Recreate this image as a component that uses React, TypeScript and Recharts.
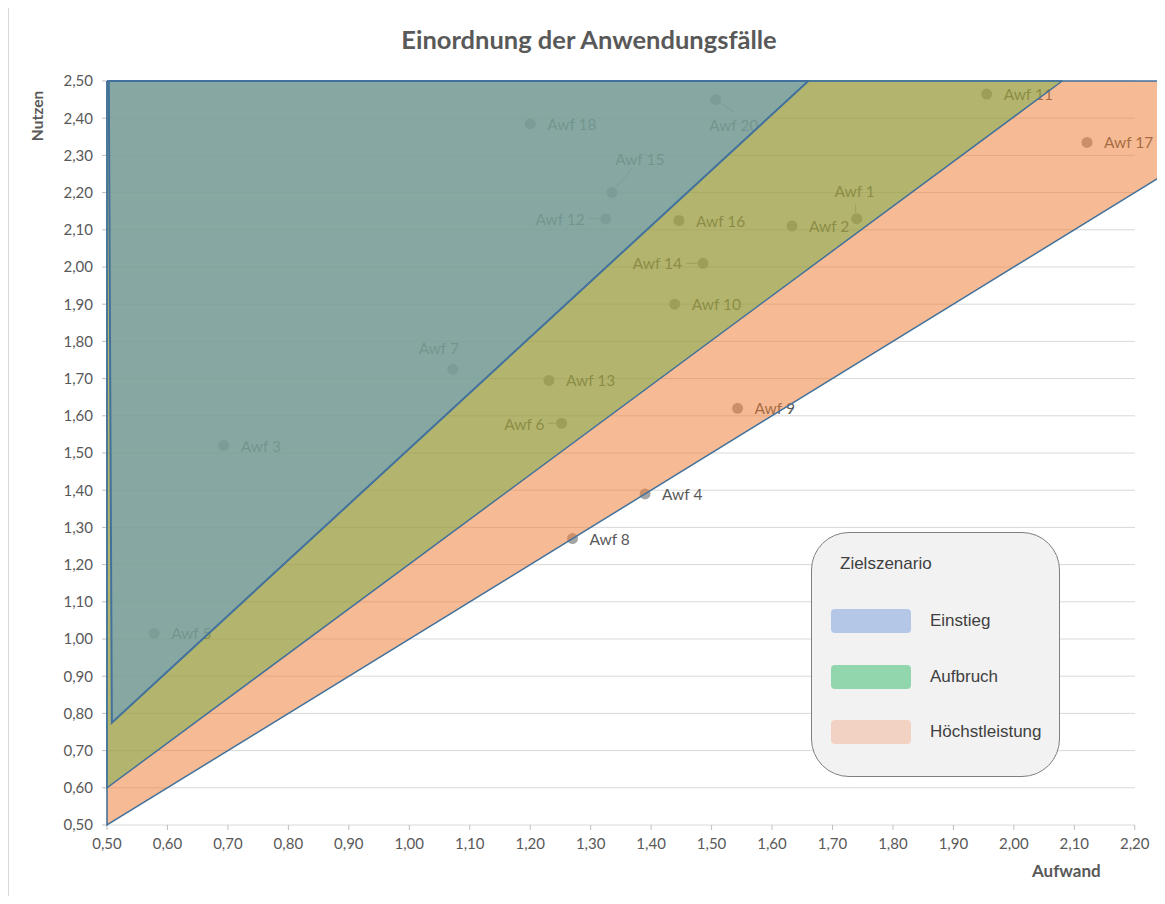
import { Area, CartesianGrid, ComposedChart, Scatter, XAxis, YAxis } from 'recharts'

// Anwendungsfälle (Aufwand / Nutzen)
const names = ['Awf 1', 'Awf 2', 'Awf 3', 'Awf 4', 'Awf 5', 'Awf 6', 'Awf 7', 'Awf 8', 'Awf 9', 'Awf 10', 'Awf 11', 'Awf 12', 'Awf 13', 'Awf 14', 'Awf 15', 'Awf 16', 'Awf 17', 'Awf 18', 'Awf 20']
const aufwand = [1.74, 1.633, 0.693, 1.39, 0.578, 1.252, 1.072, 1.27, 1.543, 1.439, 1.955, 1.325, 1.231, 1.486, 1.335, 1.446, 2.121, 1.2, 1.507]
const nutzen = [2.13, 2.11, 1.52, 1.39, 1.015, 1.58, 1.725, 1.27, 1.62, 1.9, 2.465, 2.13, 1.695, 2.01, 2.2, 2.125, 2.335, 2.385, 2.45]

// Zielszenario-Flächen: x, Untergrenze (Obergrenze = ceiling)
const hoechstX = [0.5, 0.5, 2.25]
const hoechstLow = [2.5, 0.5, 2.25]
const aufbruchX = [0.5, 0.5, 2.08]
const aufbruchLow = [2.5, 0.6, 2.5]
const einstiegX = [0.503, 0.508, 1.66]
const einstiegLow = [2.5, 0.775, 2.5]
const ceiling = 2.5

const xTicks = [0.5, 0.6, 0.7, 0.8, 0.9, 1.0, 1.1, 1.2, 1.3, 1.4, 1.5, 1.6, 1.7, 1.8, 1.9, 2.0, 2.1, 2.2]
const yTicks = [0.5, 0.6, 0.7, 0.8, 0.9, 1.0, 1.1, 1.2, 1.3, 1.4, 1.5, 1.6, 1.7, 1.8, 1.9, 2.0, 2.1, 2.2, 2.3, 2.4, 2.5]

const legendItems = ['Einstieg', 'Aufbruch', 'Höchstleistung']
const legendColors = ['#B4C7E7', '#92D6AE', '#F2D3C3']

// label placement (px relative to the dot), default: right of the dot
type Place = { dx: number; dy: number; anchor: 'start' | 'middle' | 'end'; leader?: [number, number, number, number] }
const placement: Record<string, Place> = {
  'Awf 1': { dx: -2, dy: -28, anchor: 'middle', leader: [-1, -6, -1, -14] },
  'Awf 6': { dx: -17, dy: 1, anchor: 'end', leader: [-6, 0, -14, 0] },
  'Awf 7': { dx: -14, dy: -21, anchor: 'middle' },
  'Awf 12': { dx: -21, dy: 0, anchor: 'end', leader: [-6, 0, -17, 0] },
  'Awf 14': { dx: -21, dy: 0, anchor: 'end', leader: [-6, 0, -17, 0] },
  'Awf 15': { dx: 28, dy: -34, anchor: 'middle', leader: [3, -4, 21, -25] },
  'Awf 20': { dx: 18, dy: 25, anchor: 'middle', leader: [4, 3, 18, 12] },
}

const FONT = 'Lato, "Open Sans", sans-serif'
const GREY = '#595959'
const EDGE = '#41719C'
const W = 1165
const H = 904

const fmt = (v: number) => v.toFixed(2).replace('.', ',')

const zone = (xs: number[], lows: number[]) => xs.map((x, i) => ({ x, r: [lows[i], ceiling] }))

const points = names.map((name, i) => ({ name, x: aufwand[i], y: nutzen[i] }))

function PointShape(props: any) {
  const { cx, cy, payload } = props
  const p = placement[payload.name] ?? { dx: 17, dy: 0, anchor: 'start' as const }
  return (
    <g>
      <circle cx={cx} cy={cy} r={5.5} fill="#A5A5A5" />
      {p.leader && (
        <line
          x1={cx + p.leader[0]}
          y1={cy + p.leader[1]}
          x2={cx + p.leader[2]}
          y2={cy + p.leader[3]}
          stroke="#A5A5A5"
          strokeWidth={1}
        />
      )}
      <text
        x={cx + p.dx}
        y={cy + p.dy}
        textAnchor={p.anchor}
        dominantBaseline="central"
        fontFamily={FONT}
        fontSize={15.5}
        fill={GREY}
      >
        {payload.name}
      </text>
    </g>
  )
}

export default function App() {
  return (
    <div style={{ position: 'relative', width: W, height: H, margin: -8, background: '#fff', fontFamily: FONT }}>
      <div style={{ position: 'absolute', left: 7, top: 0, width: 2, height: H, background: '#D9D9D9' }} />
      <div
        style={{
          position: 'absolute',
          left: 0,
          width: 1178,
          top: 24,
          textAlign: 'center',
          fontSize: 25.5,
          fontWeight: 700,
          color: GREY,
        }}
      >
        Einordnung der Anwendungsfälle
      </div>

      {/* base layer: grid, axes, points (lie below the zones) */}
      <div style={{ position: 'absolute', left: 0, top: 0 }}>
        <ComposedChart width={W} height={H} margin={{ top: 81, right: 0, bottom: 49, left: 47 }}>
          <CartesianGrid vertical={false} x={107} width={1028} stroke="#D9D9D9" />
          <XAxis
            dataKey="x"
            type="number"
            domain={[0.5, 2.25]}
            ticks={xTicks}
            interval={0}
            tickFormatter={fmt}
            axisLine={false}
            tickLine={{ stroke: '#BFBFBF' }}
            tickSize={5}
            tickMargin={8}
            height={30}
            tick={{ fill: GREY, fontSize: 15, fontFamily: FONT }}
          />
          <YAxis
            type="number"
            domain={[0.5, 2.5]}
            ticks={yTicks}
            interval={0}
            tickFormatter={fmt}
            width={60}
            axisLine={{ stroke: '#BFBFBF' }}
            tickLine={{ stroke: '#BFBFBF' }}
            tickSize={5}
            tickMargin={9}
            tick={{ fill: GREY, fontSize: 15, fontFamily: FONT }}
          />
          <Scatter data={points} dataKey="y" shape={PointShape} isAnimationActive={false} />
        </ComposedChart>
      </div>

      {/* top layer: translucent target-scenario zones */}
      <div style={{ position: 'absolute', left: 0, top: 0 }}>
        <ComposedChart width={W} height={H} margin={{ top: 81, right: 0, bottom: 79, left: 107 }}>
          <XAxis dataKey="x" type="number" domain={[0.5, 2.25]} hide />
          <YAxis type="number" domain={[0.5, 2.5]} hide />
          <Area
            data={zone(hoechstX, hoechstLow)}
            dataKey="r"
            type="linear"
            fill="#ED7D31"
            fillOpacity={0.52}
            stroke={EDGE}
            strokeWidth={1.5}
            dot={false}
            activeDot={false}
            isAnimationActive={false}
          />
          <Area
            data={zone(aufbruchX, aufbruchLow)}
            dataKey="r"
            type="linear"
            fill="#70AD47"
            fillOpacity={0.5}
            stroke={EDGE}
            strokeWidth={1.5}
            dot={false}
            activeDot={false}
            isAnimationActive={false}
          />
          <Area
            data={zone(einstiegX, einstiegLow)}
            dataKey="r"
            type="linear"
            fill="#5B9BD5"
            fillOpacity={0.5}
            stroke={EDGE}
            strokeWidth={2}
            dot={false}
            activeDot={false}
            isAnimationActive={false}
          />
        </ComposedChart>
      </div>

      <svg width={60} height={200} style={{ position: 'absolute', left: 0, top: 40 }}>
        <text
          x={0}
          y={0}
          transform="translate(37 76) rotate(-90)"
          textAnchor="middle"
          dominantBaseline="central"
          fontFamily={FONT}
          fontSize={15.5}
          fontWeight={700}
          fill={GREY}
        >
          Nutzen
        </text>
      </svg>
      <div style={{ position: 'absolute', left: 1032, top: 860, fontSize: 17, fontWeight: 700, color: GREY }}>Aufwand</div>

      <div
        style={{
          position: 'absolute',
          left: 811,
          top: 532,
          width: 247,
          height: 243,
          borderRadius: 38,
          border: '1px solid #7F7F7F',
          background: '#F2F2F2',
          fontFamily: '"Liberation Sans", Arial, sans-serif',
          fontSize: 17,
          color: '#404040',
        }}
      >
        <div style={{ position: 'absolute', left: 28, top: 21 }}>Zielszenario</div>
        {legendItems.map((item, i) => (
          <div key={item} style={{ position: 'absolute', left: 19, top: 76 + i * 55.5, display: 'flex', alignItems: 'center' }}>
            <div style={{ width: 80, height: 24, borderRadius: 4, background: legendColors[i] }} />
            <div style={{ marginLeft: 19 }}>{item}</div>
          </div>
        ))}
      </div>
    </div>
  )
}
